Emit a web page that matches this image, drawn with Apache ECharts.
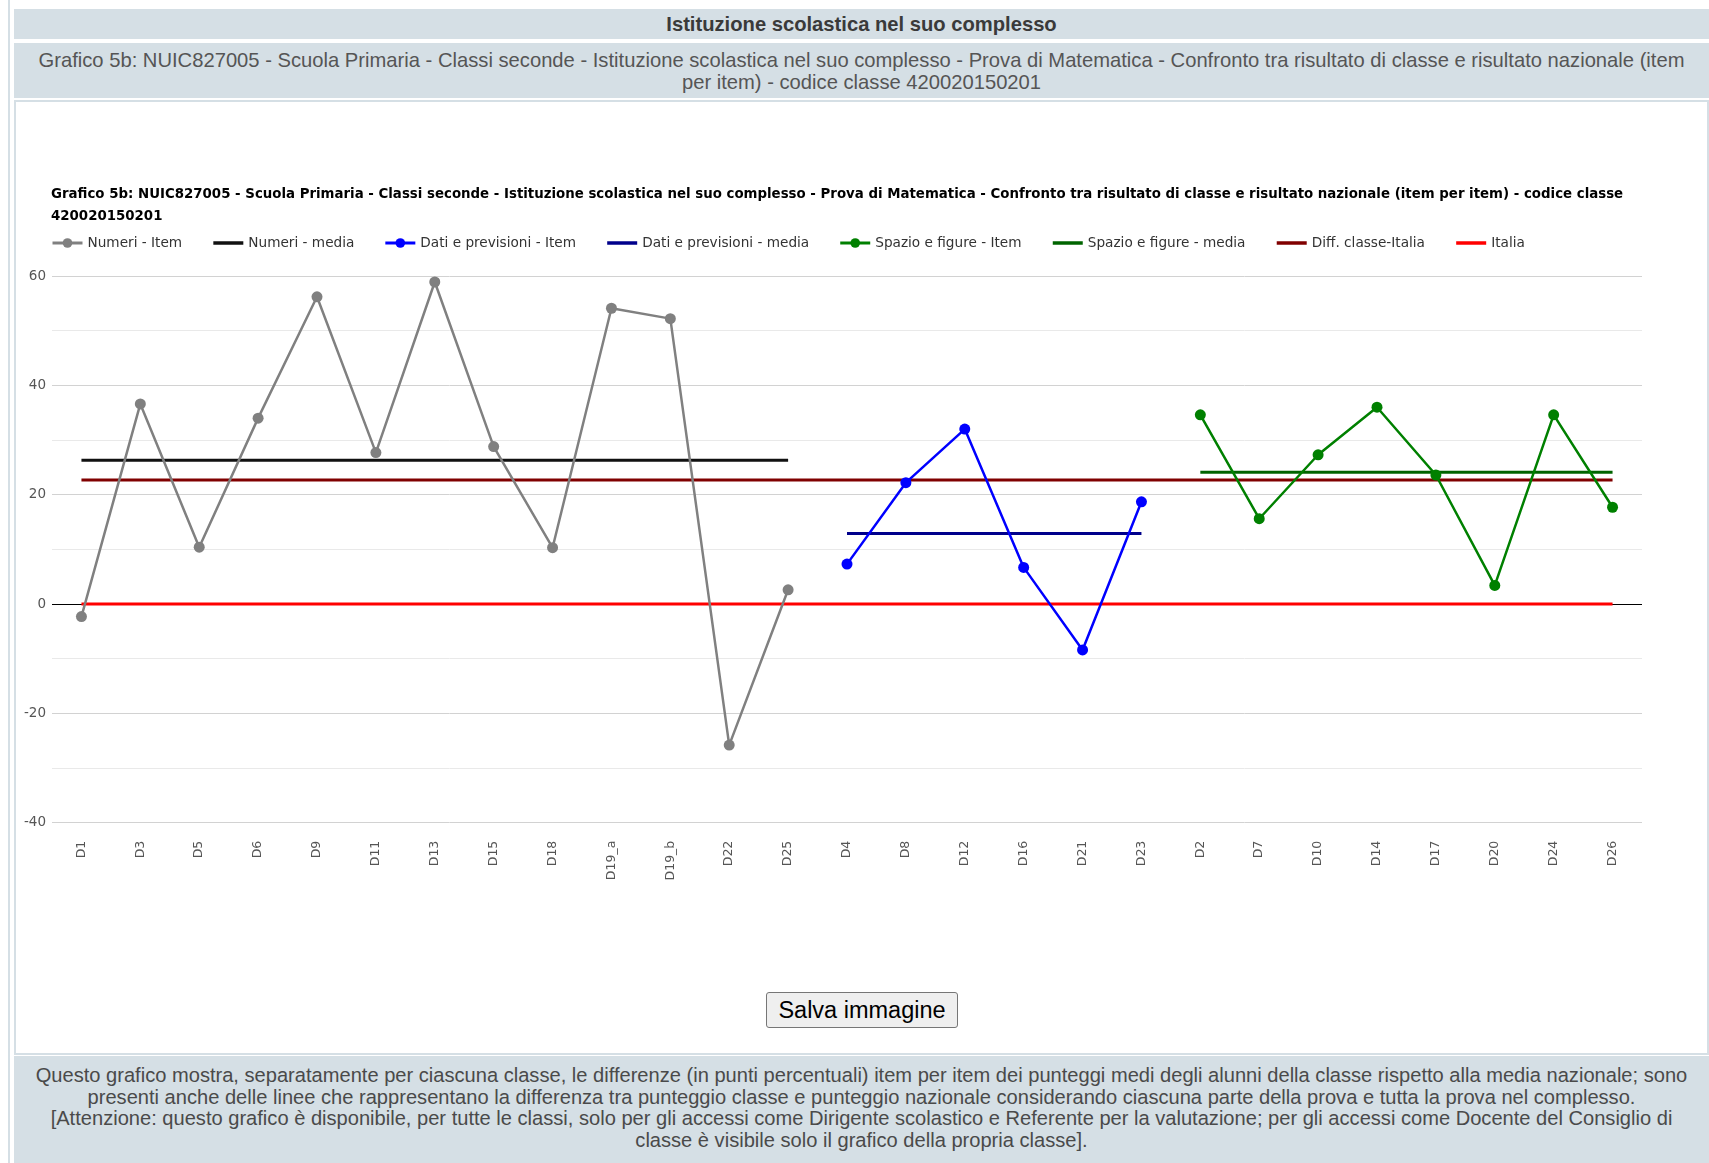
<!DOCTYPE html>
<html lang="it">
<head>
<meta charset="utf-8">
<title>Grafico 5b - Prova di Matematica</title>
<script src="https://cdn.jsdelivr.net/npm/echarts@6/dist/echarts.min.js"></script>
<style>
  html, body { margin: 0; padding: 0; background: #ffffff; }
  body { width: 1709px; height: 1163px; position: relative; overflow: hidden;
         font-family: "Liberation Sans", Arial, sans-serif; }
  .edge { position: absolute; left: 8px; top: 0; width: 2px; height: 1163px; background: #d5dfe5; }
  .bar { position: absolute; left: 14px; width: 1695px; background: #d5dfe5; text-align: center;
         white-space: nowrap; box-sizing: border-box; }
  #head1 { top: 9px; height: 30px; line-height: 31px; font-weight: bold; font-size: 20.2px; color: #3a3a3a; }
  #head2 { top: 43px; height: 55px; padding: 6px 10px 0; font-size: 20.2px; line-height: 22px; color: #555; }
  #panel { position: absolute; left: 14px; top: 100px; width: 1691px; height: 951px;
           border: 2px solid #d5dfe5; background: #fff; }
  #chart { position: absolute; left: 0; top: 100px; width: 1709px; height: 860px; }
  #save { position: absolute; left: 766px; top: 992px; width: 192px; height: 36px;
          font-family: "Liberation Sans", Arial, sans-serif; font-size: 23.5px; color: #000;
          background: #efefef; border: 1px solid #767676; border-radius: 3px; padding: 0; }
  #foot { top: 1056px; height: 107px; padding: 9px 10px 0; font-size: 20.1px; line-height: 21.5px; color: #4a4a4a; }
</style>
</head>
<body>
<div class="edge"></div>
<div class="bar" id="head1">Istituzione scolastica nel suo complesso</div>
<div class="bar" id="head2">Grafico 5b: NUIC827005 - Scuola Primaria - Classi seconde - Istituzione scolastica nel suo complesso - Prova di Matematica - Confronto tra risultato di classe e risultato nazionale (item<br>per item) - codice classe 420020150201</div>
<div id="panel"></div>
<div id="chart"></div>
<button id="save" type="button">Salva immagine</button>
<div class="bar" id="foot">Questo grafico mostra, separatamente per ciascuna classe, le differenze (in punti percentuali) item per item dei punteggi medi degli alunni della classe rispetto alla media nazionale; sono<br>presenti anche delle linee che rappresentano la differenza tra punteggio classe e punteggio nazionale considerando ciascuna parte della prova e tutta la prova nel complesso.<br>[Attenzione: questo grafico è disponibile, per tutte le classi, solo per gli accessi come Dirigente scolastico e Referente per la valutazione; per gli accessi come Docente del Consiglio di<br>classe è visibile solo il grafico della propria classe].</div>

<script>
// Items grouped by area of the test, with class-vs-Italy differences (percentage points)
const numeriItems = ['D1', 'D3', 'D5', 'D6', 'D9', 'D11', 'D13', 'D15', 'D18', 'D19_a', 'D19_b', 'D22', 'D25'];
const numeriValues = [-2.3, 36.6, 10.4, 34.0, 56.2, 27.7, 58.9, 28.8, 10.3, 54.1, 52.2, -25.8, 2.6];

const datiItems = ['D4', 'D8', 'D12', 'D16', 'D21', 'D23'];
const datiValues = [7.3, 22.2, 32.0, 6.7, -8.4, 18.7];

const spazioItems = ['D2', 'D7', 'D10', 'D14', 'D17', 'D20', 'D24', 'D26'];
const spazioValues = [34.6, 15.6, 27.3, 36.0, 23.6, 3.4, 34.6, 17.7];

// Mean differences per area, overall difference and national reference
const numeriMedia = 26.3;
const datiMedia = 12.9;
const spazioMedia = 24.1;
const diffClasseItalia = 22.7;
const italia = 0;

const categories = [...numeriItems, ...datiItems, ...spazioItems];

const yMin = -40, yMax = 60, yStep = 10, yLabelStep = 20;

const chartTitle = 'Grafico 5b: NUIC827005 - Scuola Primaria - Classi seconde - Istituzione scolastica nel suo complesso - Prova di Matematica - Confronto tra risultato di classe e risultato nazionale (item per item) - codice classe\n420020150201';

function pairs(items, values) {
  return items.map((name, i) => [name, values[i]]);
}
function span(items, value) {
  return [[items[0], value], [items[items.length - 1], value]];
}

function itemSeries(name, items, values, color) {
  return {
    name, type: 'line', data: pairs(items, values),
    symbol: 'circle', symbolSize: 11, showSymbol: true,
    itemStyle: { color }, lineStyle: { color, width: 2.5 }, z: 4
  };
}
function flatSeries(name, items, value, color, width, z) {
  return {
    name, type: 'line', data: span(items, value),
    symbol: 'none', showSymbol: false,
    itemStyle: { color }, lineStyle: { color, width }, z
  };
}

// Legend entries: item series show stroke + marker, flat lines only a thick stroke
function markerEntry(name) {
  return { name, lineStyle: { width: 3 } };
}
function lineEntry(name) {
  return { name, itemStyle: { color: 'rgba(0,0,0,0)', borderWidth: 0 }, lineStyle: { width: 3.5 } };
}

const diffSeries = flatSeries('Diff. classe-Italia', categories, diffClasseItalia, '#800000', 3, 2);
// Zero reference axis line across the whole plot, drawn beneath the Italia line
diffSeries.markLine = {
  silent: true, symbol: 'none', animation: false, z: 1,
  label: { show: false },
  lineStyle: { color: '#000', width: 1, type: 'solid' },
  emphasis: { disabled: true },
  data: [{ yAxis: italia }]
};

const chart = echarts.init(document.getElementById('chart'), null, { renderer: 'canvas' });

chart.setOption({
  animation: false,
  backgroundColor: 'transparent',
  title: {
    text: chartTitle,
    left: 46, top: 79,
    textStyle: { fontFamily: 'DejaVu Sans', fontSize: 13.35, fontWeight: 'bold', color: '#000', lineHeight: 22 }
  },
  legend: {
    left: 46, top: 131,
    itemWidth: 30, itemHeight: 12, itemGap: 29.5,
    textStyle: { fontFamily: 'DejaVu Sans', fontSize: 13.65, color: '#333' },
    data: [
      markerEntry('Numeri - Item'),
      lineEntry('Numeri - media'),
      markerEntry('Dati e previsioni - Item'),
      lineEntry('Dati e previsioni - media'),
      markerEntry('Spazio e figure - Item'),
      lineEntry('Spazio e figure - media'),
      lineEntry('Diff. classe-Italia'),
      lineEntry('Italia')
    ]
  },
  grid: { left: 52, right: 67, top: 176, bottom: 137.3, containLabel: false },
  xAxis: {
    type: 'category', data: categories, boundaryGap: true,
    axisLine: { show: false }, axisTick: { show: false },
    axisLabel: { rotate: 90, interval: 0, margin: 18, fontFamily: 'DejaVu Sans', fontSize: 12.5, color: '#555' },
    splitLine: { show: false }
  },
  yAxis: {
    type: 'value', min: yMin, max: yMax, interval: yStep,
    axisLine: { show: false }, axisTick: { show: false },
    axisLabel: {
      margin: 6, fontFamily: 'DejaVu Sans', fontSize: 13.5, color: '#555',
      formatter: v => (v % yLabelStep === 0 ? String(v) : '')
    },
    splitLine: { lineStyle: { color: ['#d2d2d2', '#e9e9e9'], width: 1 } }
  },
  series: [
    itemSeries('Numeri - Item', numeriItems, numeriValues, '#808080'),
    flatSeries('Numeri - media', numeriItems, numeriMedia, '#111111', 3, 3),
    itemSeries('Dati e previsioni - Item', datiItems, datiValues, '#0000ff'),
    flatSeries('Dati e previsioni - media', datiItems, datiMedia, '#00008b', 3, 3),
    itemSeries('Spazio e figure - Item', spazioItems, spazioValues, '#008000'),
    flatSeries('Spazio e figure - media', spazioItems, spazioMedia, '#006400', 3, 3),
    diffSeries,
    flatSeries('Italia', categories, italia, '#ff0000', 3, 3)
  ]
});
</script>
</body>
</html>
